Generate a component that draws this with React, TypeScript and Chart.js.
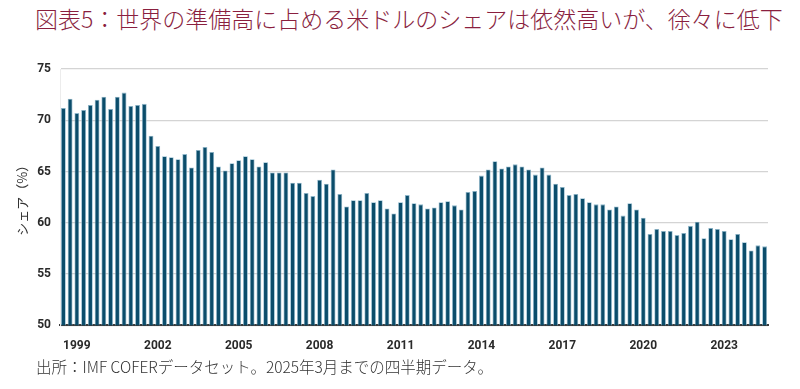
import React, { useEffect, useRef } from "react";
import { Chart, registerables } from "chart.js";

Chart.register(...registerables);

const startYear = 1999;
const quarterLabels: string[] = [];
for (let i = 0; i < 105; i++) {
  quarterLabels.push(`${startYear + Math.floor(i / 4)}Q${(i % 4) + 1}`);
}

const tickYearLabels = ["1999", "2002", "2005", "2008", "2011", "2014", "2017", "2020", "2023"];

const usdShare = [
  71.2, 72.1, 70.7, 71.0, 71.5, 72.0, 72.3, 71.1, 72.3, 72.7, 71.4, 71.5,
  71.6, 68.5, 67.5, 66.5, 66.4, 66.2, 66.7, 65.4, 67.1, 67.4, 66.9, 65.5,
  65.1, 65.8, 66.1, 66.5, 66.2, 65.5, 65.9, 64.9, 64.9, 64.9, 63.9, 63.9,
  62.9, 62.6, 64.2, 63.8, 65.2, 62.8, 61.6, 62.2, 62.2, 62.9, 62.0, 62.2,
  61.4, 60.9, 62.0, 62.7, 61.9, 61.8, 61.4, 61.5, 62.0, 62.1, 61.7, 61.3,
  63.0, 63.1, 64.6, 65.2, 66.0, 65.3, 65.5, 65.7, 65.5, 65.2, 64.7, 65.4,
  64.7, 63.8, 63.5, 62.7, 62.8, 62.4, 62.0, 61.8, 61.8, 61.3, 61.6, 60.7,
  61.9, 61.3, 60.5, 58.9, 59.4, 59.2, 59.2, 58.8, 59.0, 59.7, 60.1, 58.5,
  59.5, 59.4, 59.2, 58.4, 58.9, 58.1, 57.3, 57.8, 57.7,
];

const yTicks = [50, 55, 60, 65, 70, 75];

const titleText = "図表5：世界の準備高に占める米ドルのシェアは依然高いが、徐々に低下";
const yAxisTitle = "シェア（%）";
const sourceText = "出所：IMF COFERデータセット。2025年3月までの四半期データ。";

export default function App() {
  const canvasRef = useRef<HTMLCanvasElement | null>(null);

  useEffect(() => {
    if (!canvasRef.current) return;
    const chart = new Chart(canvasRef.current, {
      type: "bar",
      data: {
        labels: quarterLabels,
        datasets: [
          {
            data: usdShare,
            backgroundColor: "#0b4d6b",
            borderColor: "#8fb8cc",
            borderWidth: 0.8,
            barPercentage: 0.72,
            categoryPercentage: 1,
          },
        ],
      },
      options: {
        animation: false,
        responsive: false,
        maintainAspectRatio: false,
        layout: { padding: { left: 0, right: 32, top: 19, bottom: 0 } },
        plugins: { legend: { display: false }, tooltip: { enabled: false } },
        scales: {
          x: {
            offset: true,
            grid: { display: false, drawTicks: false },
            border: { display: true, color: "#3a3a3a", width: 2 },
            afterFit: (s: any) => {
              s.height = 34.7;
            },
            ticks: {
              autoSkip: false,
              maxRotation: 0,
              minRotation: 0,
              padding: 13,
              color: "#2a2a2a",
              font: { family: "Roboto", size: 12, weight: "bold" },
              callback: (_v: any, i: number) => {
                const lab = quarterLabels[i];
                const y = lab.slice(0, 4);
                return lab.endsWith("Q3") && tickYearLabels.includes(y) ? y : "";
              },
            },
          },
          y: {
            min: 50,
            max: 75,
            afterFit: (s: any) => {
              s.width = 60;
            },
            afterBuildTicks: (s: any) => {
              s.ticks = yTicks.map((v) => ({ value: v }));
            },
            grid: { color: "#d4d4d4", lineWidth: 1.2, drawTicks: false },
            border: { display: true, color: "#ececec", width: 1 },
            ticks: {
              padding: 9,
              color: "#2a2a2a",
              font: { family: "Roboto", size: 12, weight: "bold" },
            },
            title: {
              display: true,
              text: yAxisTitle,
              color: "#333",
              font: { family: "Noto Sans CJK JP", size: 13 },
              padding: { top: 14, bottom: 4 },
            },
          },
        },
      },
    });
    return () => chart.destroy();
  }, []);

  return (
    <div
      style={{
        position: "fixed",
        left: 0,
        top: 0,
        width: 800,
        height: 389,
        background: "#fff",
        overflow: "hidden",
      }}
    >
      <div
        style={{
          position: "absolute",
          left: 35,
          top: 5,
          fontFamily: "'Noto Sans CJK JP'",
          fontWeight: 300,
          fontSize: 23,
          lineHeight: "26px",
          color: "#8a1f3f",
          whiteSpace: "nowrap",
          letterSpacing: 0,
        }}
      >
        {titleText}
      </div>
      <canvas
        ref={canvasRef}
        width={800}
        height={310}
        style={{ position: "absolute", left: 0, top: 50, width: 800, height: 310 }}
      />
      <div
        style={{
          position: "absolute",
          left: 36,
          top: 356,
          fontFamily: "'Noto Sans CJK JP'",
          fontWeight: 300,
          fontSize: 15.5,
          lineHeight: "21px",
          color: "#333",
          whiteSpace: "nowrap",
        }}
      >
        {sourceText}
      </div>
    </div>
  );
}
